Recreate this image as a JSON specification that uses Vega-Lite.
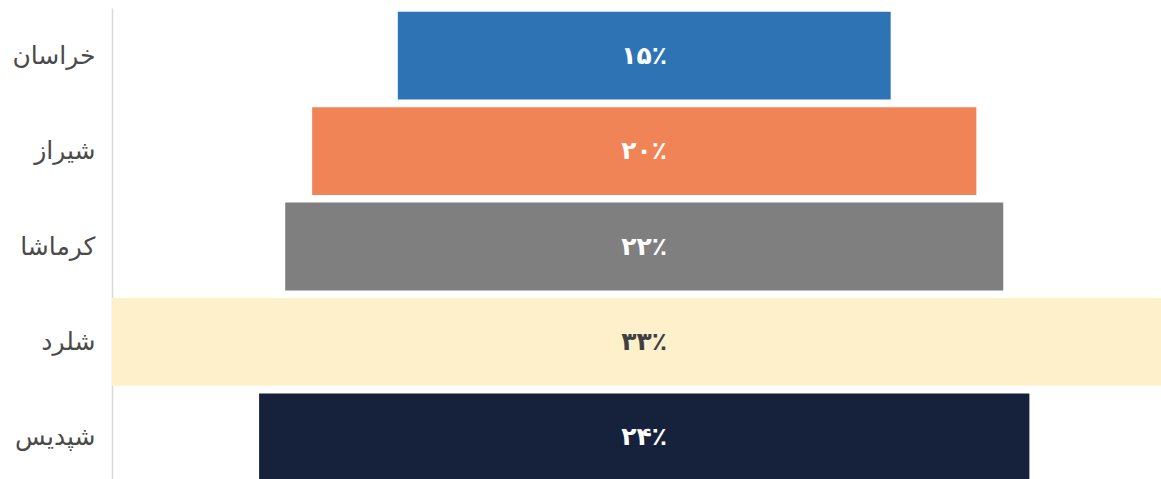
{
  "$schema": "https://vega.github.io/schema/vega-lite/v6.json",
  "autosize": "none",
  "width": 1049,
  "height": 477,
  "padding": {"left": 112, "top": 8, "right": 0, "bottom": 0},
  "background": "white",
  "config": {"view": {"stroke": null}, "font": "DejaVu Sans"},
  "data": {
    "values": [
      {"name": "خراسان", "value": 15.28, "label": "۱۵٪"},
      {"name": "شیراز", "value": 20.59, "label": "۲۰٪"},
      {"name": "کرماشا", "value": 22.26, "label": "۲۲٪"},
      {"name": "شلرد", "value": 33.0, "label": "۳۳٪"},
      {"name": "شپدیس", "value": 23.88, "label": "۲۴٪"}
    ]
  },
  "encoding": {
    "y": {
      "field": "name",
      "type": "nominal",
      "sort": null,
      "scale": {"paddingInner": 0.08, "paddingOuter": 0.04},
      "axis": {
        "title": null,
        "ticks": false,
        "labelFontSize": 25,
        "labelFontWeight": "normal",
        "labelColor": "#4A4A4A",
        "labelPadding": 17,
        "domainColor": "#D9D9D9",
        "domainWidth": 1.5,
        "grid": false
      }
    }
  },
  "layer": [
    {
      "mark": {"type": "bar", "clip": true},
      "encoding": {
        "x": {
          "field": "value",
          "type": "quantitative",
          "stack": "center",
          "scale": {"domain": [0, 32.52], "nice": false, "zero": false},
          "axis": null
        },
        "color": {
          "field": "name",
          "type": "nominal",
          "sort": null,
          "scale": {
            "domain": ["خراسان", "شیراز", "کرماشا", "شلرد", "شپدیس"],
            "range": ["#2E74B5", "#F08456", "#7F7F7F", "#FFF0CC", "#16213C"]
          },
          "legend": null
        }
      }
    },
    {
      "mark": {"type": "text", "fontSize": 25, "fontWeight": "bold", "align": "center", "baseline": "middle"},
      "encoding": {
        "x": {"datum": 16.5, "type": "quantitative"},
        "text": {"field": "label"},
        "color": {
          "condition": {"test": "datum.name === 'شلرد'", "value": "#404040"},
          "value": "#FFFFFF"
        }
      }
    }
  ]
}
